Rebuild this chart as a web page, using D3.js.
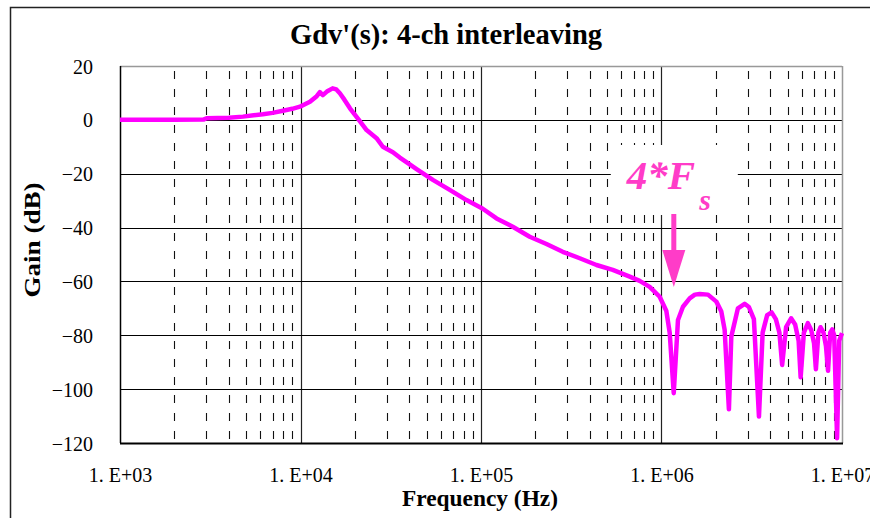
<!DOCTYPE html>
<html>
<head>
<meta charset="utf-8">
<script src="https://cdn.jsdelivr.net/npm/d3@7/dist/d3.min.js"></script>
<style>
  html, body { margin: 0; padding: 0; background: #fff; }
  svg { display: block; }
</style>
</head>
<body>
<svg id="chart" width="870" height="518"></svg>
<script>
// ---------------- DATA ----------------
const titleText = "Gdv'(s): 4-ch interleaving";
const xAxisTitle = "Frequency (Hz)";
const yAxisTitle = "Gain (dB)";

const xTickValues = [1e3, 1e4, 1e5, 1e6, 1e7];
const xTickLabels = ["1. E+03", "1. E+04", "1. E+05", "1. E+06", "1. E+07"];
const yTickValues = [20, 0, -20, -40, -60, -80, -100, -120];

// frequency (Hz)
const freqHz = [
  1000, 1500, 2000, 2900, 3020, 4000, 4800, 5500, 6190, 7000, 8000, 9000, 9930,
  11280, 12300, 12800, 13300, 14000, 15060, 15800, 16520, 17500, 18790, 20800,
  23230, 26380, 28580, 32500, 35500, 39350, 43960, 54100, 67100, 83100, 102300,
  121900, 150000, 186200, 230500, 283700, 352400, 436300, 537000, 667000, 757000,
  860000, 977000, 1064000, 1110000, 1169000, 1234000, 1315000, 1432000, 1530000,
  1628000, 1809000, 2013000, 2145000, 2238000, 2363000, 2436000, 2651000, 2888000,
  3050000, 3250000, 3467000, 3633000, 3850000, 4074000, 4300000, 4500000, 4660000,
  4900000, 5224000, 5500000, 5750000, 5900000, 6150000, 6470000, 6750000, 7000000,
  7170000, 7400000, 7610000, 7900000, 8150000, 8370000, 8600000, 8830000, 9050000,
  9390000, 9650000, 10000000
];
// gain (dB)
const gainDb = [
  0, 0, 0, 0.1, 0.6, 0.8, 1.2, 1.7, 2.1, 2.6, 3.4, 4.1, 4.9,
  6.7, 8.8, 10.3, 9.2, 10.5, 11.7, 11.3, 9.9, 7.5, 4.3, 0.5,
  -3.8, -6.8, -10, -12, -14, -16.1, -18.3, -22.3, -26, -29.8, -33,
  -36.6, -39.7, -43.4, -46.1, -49, -51.4, -53.9, -55.7, -58.2, -59.8,
  -62, -65.7, -71, -79, -101.5, -74.3, -69.4, -66.3, -64.9,
  -64.7, -64.9, -67.5, -71.2, -78, -107.5, -80.5, -70, -68.3,
  -69.5, -74, -110.2, -79, -72.5, -71.5, -74, -79, -91,
  -77, -73.7, -76, -82, -95.6, -79, -75.5, -78, -83,
  -92.6, -79, -77, -79, -84, -93.2, -79, -77.8, -80,
  -118.2, -82, -79.2
];

const annotationText = "4*F";
const annotationSub = "s";
const annotationFreq = 1.17e6;

// ---------------- CHART ----------------
const svg = d3.select("#chart");
const padL = 120, padR = 842, padT = 66, padB = 443;

const x = d3.scaleLog().domain([1e3, 1e7]).range([padL, padR]);
const y = d3.scaleLinear().domain([-120, 20]).range([padB, padT]);

// outer frame
svg.append("rect")
  .attr("x", 10.5).attr("y", 7.5).attr("width", 900).attr("height", 600)
  .attr("fill", "none").attr("stroke", "#222").attr("stroke-width", 1.5);

const grid = svg.append("g");

// minor dashed vertical lines
const minorTicks = [];
for (let d = 1e3; d < 1e7; d *= 10) {
  for (let k = 2; k <= 9; k++) minorTicks.push(d * k);
}
grid.selectAll("line.minor").data(minorTicks).join("line")
  .attr("class", "minor")
  .attr("x1", d => Math.round(x(d)) + 0.5).attr("x2", d => Math.round(x(d)) + 0.5)
  .attr("y1", padT).attr("y2", padB)
  .attr("stroke", "#111").attr("stroke-width", 1.1)
  .attr("stroke-dasharray", "8,10").attr("stroke-dashoffset", 13);

// decade solid vertical lines
grid.selectAll("line.major").data(xTickValues.slice(1, -1)).join("line")
  .attr("class", "major")
  .attr("x1", d => Math.round(x(d)) + 0.5).attr("x2", d => Math.round(x(d)) + 0.5)
  .attr("y1", padT).attr("y2", padB)
  .attr("stroke", "#222").attr("stroke-width", 1.2);

// horizontal grid lines
grid.selectAll("line.h").data(yTickValues.slice(1, -1)).join("line")
  .attr("class", "h")
  .attr("x1", padL).attr("x2", padR)
  .attr("y1", d => Math.round(y(d)) + 0.5).attr("y2", d => Math.round(y(d)) + 0.5)
  .attr("stroke", "#000").attr("stroke-width", 1.2);

// annotation white box
const ax = x(annotationFreq);
svg.append("rect")
  .attr("x", ax - 63).attr("y", 145).attr("width", 127).attr("height", 70)
  .attr("fill", "#fff");

// plot border
svg.append("line").attr("x1", padL).attr("x2", padR).attr("y1", padT + 0.5).attr("y2", padT + 0.5)
  .attr("stroke", "#999").attr("stroke-width", 1.5);
svg.append("line").attr("x1", padR + 0.5).attr("x2", padR + 0.5).attr("y1", padT).attr("y2", padB)
  .attr("stroke", "#999").attr("stroke-width", 1.5);
svg.append("line").attr("x1", padL + 0.5).attr("x2", padL + 0.5).attr("y1", padT).attr("y2", padB)
  .attr("stroke", "#000").attr("stroke-width", 1.5);
svg.append("line").attr("x1", padL).attr("x2", padR + 1).attr("y1", padB + 0.5).attr("y2", padB + 0.5)
  .attr("stroke", "#000").attr("stroke-width", 2);

// curve
const data = freqHz.map((f, i) => ({ f, g: gainDb[i] }));
svg.append("path")
  .datum(data)
  .attr("fill", "none")
  .attr("stroke", "#ff00ff")
  .attr("stroke-width", 4.5)
  .attr("stroke-linejoin", "round")
  .attr("d", d3.line().x(d => x(d.f)).y(d => y(d.g)));

// axes (labels only)
const xAxis = svg.append("g").attr("transform", `translate(0,${padB})`)
  .call(d3.axisBottom(x).tickValues(xTickValues)
    .tickFormat((d, i) => xTickLabels[i]).tickSize(0));
xAxis.select(".domain").remove();
xAxis.selectAll("text")
  .attr("y", 39).attr("dy", null)
  .attr("font-family", "'Liberation Serif', 'DejaVu Serif', serif")
  .attr("font-size", 20).attr("fill", "#000");

const yAxis = svg.append("g").attr("transform", `translate(${padL},0)`)
  .call(d3.axisLeft(y).tickValues(yTickValues)
    .tickFormat(d => (d < 0 ? "\u2212" + Math.abs(d) : String(d))).tickSize(0));
yAxis.select(".domain").remove();
yAxis.selectAll("text")
  .attr("x", -27).attr("dy", null).attr("y", 7)
  .attr("font-family", "'Liberation Serif', 'DejaVu Serif', serif")
  .attr("font-size", 20).attr("fill", "#000");

// titles
svg.append("text")
  .attr("x", 446).attr("y", 44).attr("text-anchor", "middle")
  .attr("font-family", "'Liberation Serif', serif").attr("font-weight", "bold")
  .attr("font-size", 29).attr("textLength", 312).attr("lengthAdjust", "spacingAndGlyphs")
  .text(titleText);

svg.append("text")
  .attr("x", 480).attr("y", 506).attr("text-anchor", "middle")
  .attr("font-family", "'Liberation Serif', serif").attr("font-weight", "bold")
  .attr("font-size", 23).attr("textLength", 156).attr("lengthAdjust", "spacingAndGlyphs")
  .text(xAxisTitle);

svg.append("text")
  .attr("transform", "translate(40,240) rotate(-90)")
  .attr("text-anchor", "middle")
  .attr("font-family", "'Liberation Serif', serif").attr("font-weight", "bold")
  .attr("font-size", 24).attr("textLength", 115).attr("lengthAdjust", "spacingAndGlyphs")
  .text(yAxisTitle);

// annotation
const pink = "#ff3cc8";
const ann = svg.append("text")
  .attr("x", ax - 47).attr("y", 189)
  .attr("font-family", "'Liberation Serif', serif")
  .attr("font-weight", "bold").attr("font-style", "italic")
  .attr("font-size", 41).attr("fill", pink);
ann.append("tspan").text(annotationText);
ann.append("tspan").attr("dy", 21).attr("dx", 4).attr("font-size", 30).text(annotationSub);

// arrow
svg.append("rect")
  .attr("x", ax - 2.5).attr("y", 214).attr("width", 5).attr("height", 40)
  .attr("fill", pink);
svg.append("path")
  .attr("d", `M${ax - 11.5},250 L${ax + 11.5},250 L${ax},287 Z`)
  .attr("fill", pink);
</script>
</body>
</html>
